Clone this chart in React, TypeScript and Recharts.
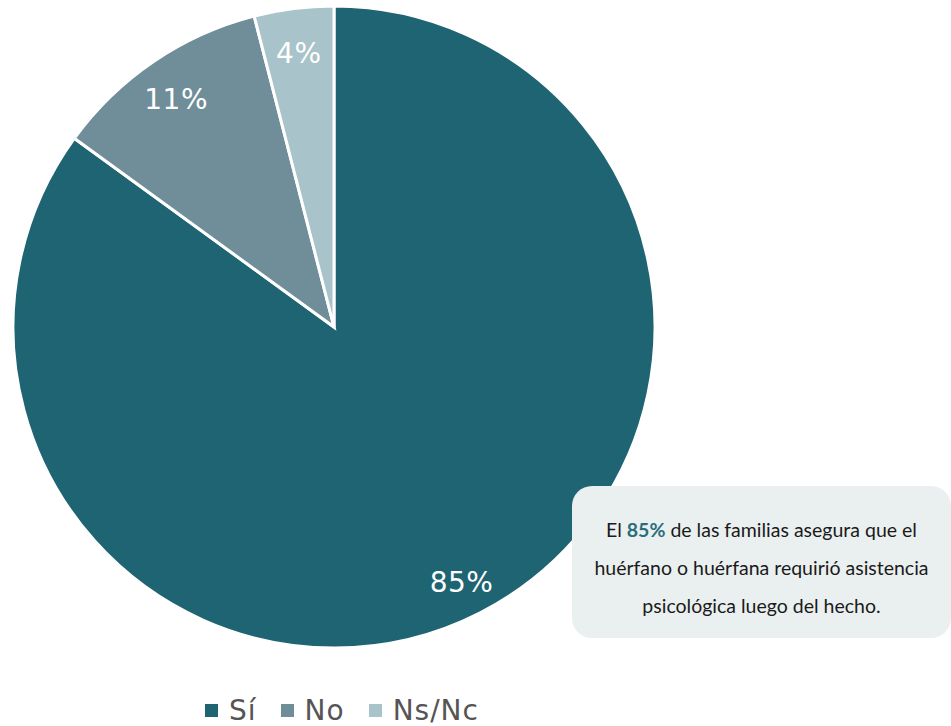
import React from "react";
import { PieChart, Pie, Cell, Legend } from "recharts";

const categories = ["Sí", "No", "Ns/Nc"];
const values = [85, 11, 4];
const colors = ["#1f6473", "#6f8e99", "#a8c3c9"];

const data = categories.map((name, i) => ({ name, value: values[i] }));

const RAD = Math.PI / 180;
const renderLabel = (props: any) => {
  const { cx, cy, midAngle, outerRadius, value } = props;
  const r = outerRadius * 0.875;
  const x = cx + r * Math.cos(-midAngle * RAD);
  const y = cy + r * Math.sin(-midAngle * RAD) + 5;
  return (
    <text
      x={x}
      y={y}
      fill="#ffffff"
      textAnchor="middle"
      dominantBaseline="central"
      style={{ fontFamily: "'DejaVu Sans', sans-serif", fontSize: 28, letterSpacing: 0.5 }}
    >
      {`${value}%`}
    </text>
  );
};

const renderLegend = () => (
  <div
    style={{
      display: "flex",
      justifyContent: "center",
      alignItems: "center",
      fontFamily: "'DejaVu Sans', sans-serif",
      fontSize: 28,
      letterSpacing: 1,
      color: "#555555",
      height: 36,
    }}
  >
    {categories.map((c, i) => (
      <div key={c} style={{ display: "flex", alignItems: "center", marginRight: i < categories.length - 1 ? 24 : 0 }}>
        <span style={{ display: "inline-block", width: 13, height: 13, background: colors[i], marginRight: 11 }} />
        <span>{c}</span>
      </div>
    ))}
  </div>
);

export default function App() {
  return (
    <div style={{ position: "absolute", left: 0, top: 0, width: 951, height: 726, background: "#ffffff" }}>
      <PieChart width={951} height={726} margin={{ top: 0, right: 0, bottom: 0, left: 0 }}>
        <Pie
          data={data}
          dataKey="value"
          nameKey="name"
          cx={334}
          cy={327}
          outerRadius={321}
          startAngle={90}
          endAngle={-270}
          stroke="#ffffff"
          strokeWidth={3}
          label={renderLabel}
          labelLine={false}
          isAnimationActive={false}
        >
          {data.map((d, i) => (
            <Cell key={d.name} fill={colors[i]} />
          ))}
        </Pie>
        <Legend
          content={renderLegend}
          wrapperStyle={{ position: "absolute", left: 8, top: 692, width: 668, height: 36 }}
        />
      </PieChart>
      <div
        style={{
          position: "absolute",
          left: 572,
          top: 486,
          width: 379,
          height: 152,
          paddingTop: 12,
          background: "#eaf0f0",
          borderRadius: 20,
          boxSizing: "border-box",
          display: "flex",
          flexDirection: "column",
          justifyContent: "center",
          alignItems: "center",
          textAlign: "center",
          fontFamily: "Lato, 'Open Sans', sans-serif",
          fontSize: 19.5,
          lineHeight: "38px",
          color: "#1a1a1a",
        }}
      >
        <div>
          El <span style={{ color: "#2a6e7c", fontWeight: 700 }}>85%</span> de las familias asegura que el
        </div>
        <div>huérfano o huérfana requirió asistencia</div>
        <div>psicológica luego del hecho.</div>
      </div>
    </div>
  );
}
